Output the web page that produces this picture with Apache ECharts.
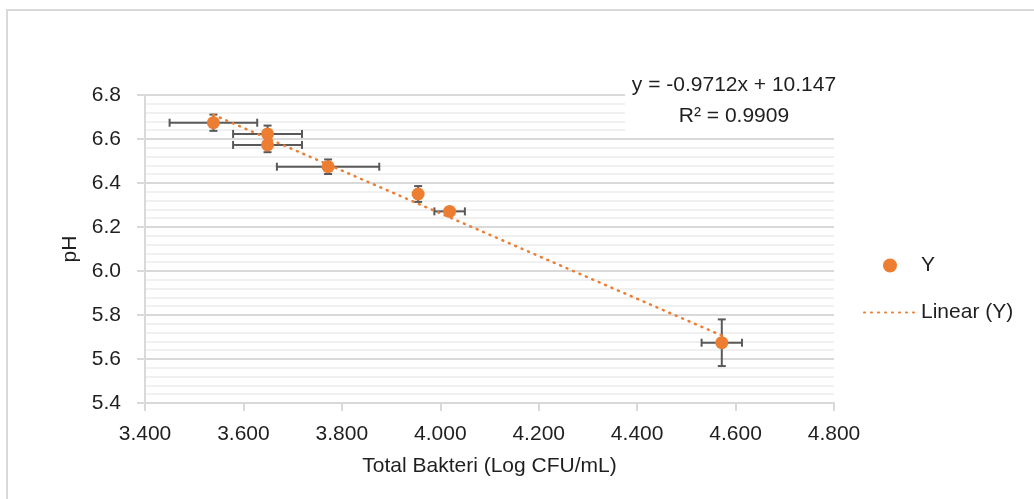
<!DOCTYPE html>
<html>
<head>
<meta charset="utf-8">
<title>pH vs Total Bakteri</title>
<script src="https://cdn.jsdelivr.net/npm/echarts@6/dist/echarts.min.js"></script>
<style>
  html, body { margin: 0; padding: 0; background: #fff; }
  #myChart { width: 1034px; height: 499px; }
</style>
</head>
<body>
<div id="myChart"></div>
<script>
// data
var totalBakteri = [3.539, 3.649, 3.649, 3.772, 3.955, 4.019, 4.572];
var phValues     = [6.674, 6.623, 6.573, 6.474, 6.350, 6.271, 5.674];
var xErrors      = [0.089, 0.070, 0.070, 0.104, 0.005, 0.031, 0.041];
var yErrors      = [0.037, 0.038, 0.033, 0.033, 0.036, 0.010, 0.106];
var trendSlope = -0.9712;
var trendIntercept = 10.147;
var equationLines = ['y = -0.9712x + 10.147', 'R² = 0.9909'];

var FONT = 'Liberation Sans, Arial, sans-serif';
var TEXT = '#1f1f1f';
var ORANGE = '#ED7D31';

var points = totalBakteri.map(function (x, i) { return [x, phValues[i]]; });
var errData = totalBakteri.map(function (x, i) { return [x, phValues[i], xErrors[i], yErrors[i]]; });
var xMin = Math.min.apply(null, totalBakteri);
var xMax = Math.max.apply(null, totalBakteri);
var trendData = [
  [xMin, trendSlope * xMin + trendIntercept],
  [xMax, trendSlope * xMax + trendIntercept]
];

var myChart = echarts.init(document.getElementById('myChart'));

myChart.setOption({
  animation: false,
  grid: { left: 145, right: 200, top: 95, bottom: 96, containLabel: false },
  xAxis: {
    type: 'value',
    min: 3.4, max: 4.8, interval: 0.2,
    name: 'Total Bakteri (Log CFU/mL)',
    nameLocation: 'middle',
    nameGap: 53,
    nameTextStyle: { fontFamily: FONT, fontSize: 21, color: TEXT },
    axisLine: { show: true, lineStyle: { color: '#d9d9d9', width: 2 } },
    axisTick: { show: true, length: 8, lineStyle: { color: '#d9d9d9', width: 2 } },
    axisLabel: { fontFamily: FONT, fontSize: 21, color: TEXT, margin: 21,
      formatter: function (v) { return v.toFixed(3); } },
    splitLine: { show: false }
  },
  yAxis: {
    type: 'value',
    min: 5.4, max: 6.8, interval: 0.2,
    name: 'pH',
    nameLocation: 'middle',
    nameGap: 63,
    nameTextStyle: { fontFamily: FONT, fontSize: 21, color: TEXT },
    axisLine: { show: true, lineStyle: { color: '#d9d9d9', width: 2 } },
    axisTick: { show: true, length: 8, lineStyle: { color: '#d9d9d9', width: 2 } },
    axisLabel: { fontFamily: FONT, fontSize: 21, color: TEXT, margin: 24,
      formatter: function (v) { return v.toFixed(1); } },
    splitLine: { show: true, lineStyle: { color: '#d9d9d9', width: 2 } },
    minorTick: { show: false, splitNumber: 5 },
    minorSplitLine: { show: true, lineStyle: { color: '#f0f0f0', width: 2 } }
  },
  legend: {
    orient: 'vertical',
    left: 858,
    top: 250,
    itemWidth: 52,
    itemHeight: 14,
    itemGap: 26,
    textStyle: { fontFamily: FONT, fontSize: 21, color: TEXT },
    data: [
      { name: 'Y', icon: 'circle' },
      { name: 'Linear (Y)', itemStyle: { color: 'transparent', borderWidth: 0, opacity: 0 } }
    ]
  },
  graphic: [
    {
      type: 'rect', z: 0, silent: true,
      shape: { x: 7, y: 10, width: 1100, height: 600 },
      style: { fill: 'none', stroke: '#d9d9d9', lineWidth: 2 }
    },
    {
      type: 'rect', z: 50, silent: true,
      shape: { x: 625, y: 68, width: 215, height: 66 },
      style: { fill: '#fff' }
    },
    {
      type: 'text', z: 51, silent: true,
      x: 734, y: 85,
      style: { text: equationLines[0], font: '21px ' + FONT, fill: TEXT, align: 'center', verticalAlign: 'middle' }
    },
    {
      type: 'text', z: 51, silent: true,
      x: 734, y: 116,
      style: { text: equationLines[1], font: '21px ' + FONT, fill: TEXT, align: 'center', verticalAlign: 'middle' }
    }
  ],
  series: [
    {
      name: 'errorbars',
      type: 'custom',
      z: 3,
      silent: true,
      data: errData,
      renderItem: function (params, api) {
        var x = api.value(0), y = api.value(1), ex = api.value(2), ey = api.value(3);
        var left = api.coord([x - ex, y]), right = api.coord([x + ex, y]);
        var top = api.coord([x, y + ey]), bottom = api.coord([x, y - ey]);
        var cap = 4;
        var style = { stroke: '#595959', lineWidth: 2 };
        return {
          type: 'group',
          children: [
            { type: 'line', shape: { x1: left[0], y1: left[1], x2: right[0], y2: right[1] }, style: style },
            { type: 'line', shape: { x1: left[0], y1: left[1] - cap, x2: left[0], y2: left[1] + cap }, style: style },
            { type: 'line', shape: { x1: right[0], y1: right[1] - cap, x2: right[0], y2: right[1] + cap }, style: style },
            { type: 'line', shape: { x1: top[0], y1: top[1], x2: bottom[0], y2: bottom[1] }, style: style },
            { type: 'line', shape: { x1: top[0] - cap, y1: top[1], x2: top[0] + cap, y2: top[1] }, style: style },
            { type: 'line', shape: { x1: bottom[0] - cap, y1: bottom[1], x2: bottom[0] + cap, y2: bottom[1] }, style: style }
          ]
        };
      }
    },
    {
      name: 'Linear (Y)',
      type: 'line',
      z: 4,
      symbol: 'none',
      data: trendData,
      lineStyle: { color: ORANGE, width: 2.5, type: [1, 6], cap: 'round' },
      itemStyle: { color: ORANGE }
    },
    {
      name: 'Y',
      type: 'scatter',
      z: 5,
      symbolSize: 13,
      data: points,
      itemStyle: { color: ORANGE, opacity: 1 }
    }
  ]
});
</script>
</body>
</html>
